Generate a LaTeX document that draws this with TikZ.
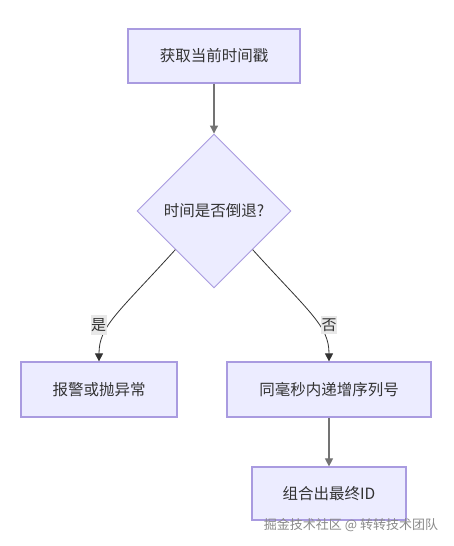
\documentclass[tikz,border=0pt]{standalone}
\usepackage{fontspec}
\setmainfont{Noto Sans CJK SC}
\usetikzlibrary{shapes.geometric,arrows.meta}
\definecolor{boxfill}{HTML}{ECECFF}
\definecolor{boxline}{HTML}{A99BE0}
\definecolor{txt}{HTML}{333333}
\definecolor{lblbg}{HTML}{E8E8E8}
\definecolor{wm}{HTML}{8A8A8A}
\tikzset{
  proc/.style={draw=boxline, fill=boxfill, line width=1.2pt, text=txt, inner sep=0pt,
    font=\fontsize{15.5}{18}\selectfont},
  decide/.style={shape=diamond, draw=boxline, fill=boxfill, line width=0.9pt, text=txt,
    inner sep=0pt, minimum size=154pt, font=\fontsize{15.5}{18}\selectfont},
  edge/.style={draw=txt, line width=0.8pt, -{Triangle[width=8pt,length=8pt]}},
  edgelbl/.style={fill=lblbg, text=txt, inner xsep=0.5pt, inner ysep=3pt,
    font=\fontsize{15}{17}\selectfont},
  wmark/.style={text=wm, inner sep=0pt, font=\fontsize{13}{15}\selectfont}
}
\begin{document}
\begin{tikzpicture}[x=1pt,y=-1pt]
\useasboundingbox (0,0) rectangle (454,546);
\fill[white] (0,0) rectangle (454,546);
\node[proc, minimum width=172pt, minimum height=54pt] (a) at (214,56) {获取当前时间戳};
\node[decide] (d) at (214,211) {时间是否倒退?};
\node[proc, minimum width=156pt, minimum height=55pt] (l) at (99,389.5) {报警或抛异常};
\node[proc, minimum width=204pt, minimum height=55pt] (r) at (329,389.5) {同毫秒内递增序列号};
\node[proc, minimum width=154pt, minimum height=53pt] (f) at (329,493.5) {组合出最终ID};
\draw[edge, draw=black!55, line width=1.1pt] (a) -- (d);
\draw[edge] (d.south west) .. controls (118,313) and (99,326) .. (l.north);
\draw[edge] (d.south east) .. controls (310,313) and (329,326) .. (r.north);
\node[edgelbl] (ly) at (98.5,325) {是};
\node[edgelbl] (ln) at (329,325) {否};
\draw[edge, draw=black!55, line width=1.1pt] (r) -- (f);
\node[wmark] (w) at (351,525) {掘金技术社区 @ 转转技术团队};
\end{tikzpicture}
\end{document}
